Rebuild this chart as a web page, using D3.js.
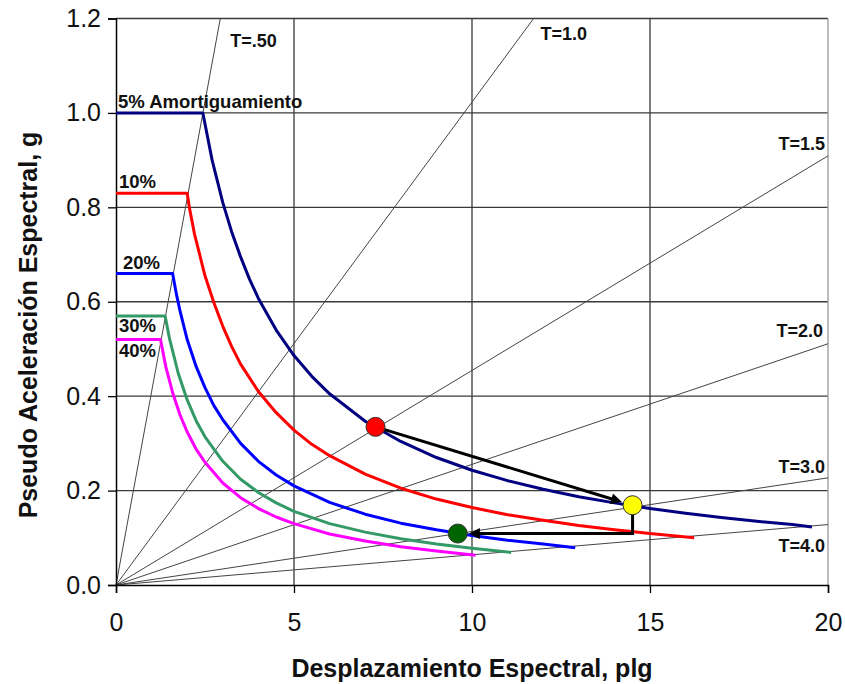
<!DOCTYPE html>
<html>
<head>
<meta charset="utf-8">
<script src="https://cdn.jsdelivr.net/npm/d3@7"></script>
<style>
    body { margin: 0; background: #fff; }
    svg { display: block; font-family: "Liberation Sans", Arial, sans-serif; }
</style>
</head>
<body>
<div id="main"></div>
<script>
const ticksX = [0, 5, 10, 15, 20],
    ticksY = [0, 0.2, 0.4, 0.6, 0.8, 1.0, 1.2];

const amortiguamientos = ['5% Amortiguamiento', '10%', '20%', '30%', '40%'];
const coloresCurva = ['#000080', '#ff0000', '#0000ff', '#339966', '#ff00ff'];

// [Sd plg, Sa g]
const curva5 = [[0, 1.0], [2.44, 1.0], [2.7, 0.90], [3.0, 0.81], [3.25, 0.748], [3.5, 0.695], [3.75, 0.648],
    [4.0, 0.607], [4.5, 0.54], [5.0, 0.486], [5.5, 0.442], [6.0, 0.405], [7.0, 0.347], [8.0, 0.304],
    [9.0, 0.27], [10.0, 0.243], [11.0, 0.221], [12.0, 0.203], [13.0, 0.187], [14.0, 0.174], [15.0, 0.162],
    [16.0, 0.152], [17.0, 0.143], [18.0, 0.135], [19.0, 0.128], [19.55, 0.123]];
const curva10 = [[0, 0.83], [2.0, 0.83], [2.06, 0.80], [2.2, 0.745], [2.5, 0.655], [2.75, 0.598], [3.0, 0.548],
    [3.25, 0.505], [3.5, 0.468], [4.0, 0.41], [4.5, 0.365], [5.0, 0.328], [5.5, 0.298], [6.0, 0.274],
    [7.0, 0.235], [8.0, 0.205], [9.0, 0.182], [10.0, 0.164], [11.0, 0.149], [12.0, 0.137], [13.0, 0.126],
    [14.0, 0.117], [15.0, 0.109], [16.24, 0.10]];
const curva20 = [[0, 0.66], [1.59, 0.66], [1.7, 0.615], [1.8, 0.58], [2.0, 0.52], [2.25, 0.463], [2.5, 0.418],
    [2.75, 0.38], [3.0, 0.35], [3.5, 0.30], [4.0, 0.262], [4.5, 0.233], [5.0, 0.21], [6.0, 0.175],
    [7.0, 0.15], [8.0, 0.131], [9.0, 0.117], [10.0, 0.105], [11.0, 0.095], [12.0, 0.087], [12.9, 0.079]];
const curva30 = [[0, 0.57], [1.38, 0.57], [1.5, 0.523], [1.75, 0.448], [2.0, 0.392], [2.25, 0.348], [2.5, 0.314],
    [3.0, 0.262], [3.5, 0.224], [4.0, 0.196], [4.5, 0.174], [5.0, 0.156], [6.0, 0.13], [7.0, 0.112],
    [8.0, 0.098], [9.0, 0.087], [10.0, 0.078], [11.1, 0.069]];
const curva40 = [[0, 0.52], [1.25, 0.52], [1.4, 0.462], [1.6, 0.405], [1.8, 0.36], [2.0, 0.324], [2.25, 0.288],
    [2.5, 0.26], [3.0, 0.216], [3.5, 0.185], [4.0, 0.162], [4.5, 0.144], [5.0, 0.13], [6.0, 0.108],
    [7.0, 0.093], [8.0, 0.081], [9.0, 0.072], [10.1, 0.063]];

const periodos = ['T=.50', 'T=1.0', 'T=1.5', 'T=2.0', 'T=3.0', 'T=4.0'];
const finPeriodo = [[2.93, 1.2], [11.73, 1.2], [20, 0.909], [20, 0.511], [20, 0.227], [20, 0.128]];

// punto de desempeno: inicial, espectro 5%, final
const puntos = [[7.29, 0.335], [14.51, 0.169], [9.6, 0.109]];
const coloresPunto = ['#ff0000', '#ffff00', '#006400'];

const drawChart = () => {
    const W = 845, H = 684,
        pad = { top: 18.5, left: 116, right: 17, bottom: 99 },
        curvas = [curva5, curva10, curva20, curva30, curva40];

    const x = d3.scaleLinear().domain([0, 20]).range([pad.left, W - pad.right]),
        y = d3.scaleLinear().domain([0, 1.2]).range([H - pad.bottom, pad.top]);

    const svg = d3.select('div#main').append('svg')
        .attr('width', W)
        .attr('height', H);

    svg.append('rect').attr('width', W).attr('height', H).attr('fill', '#fff');

    // rejilla
    svg.append('g').selectAll('line')
        .data(ticksY.slice(1))
        .enter()
        .append('line')
        .attr('x1', x(0)).attr('x2', x(20))
        .attr('y1', d => y(d)).attr('y2', d => y(d))
        .attr('stroke', '#3a3a3a').attr('stroke-width', 1.3);

    svg.append('g').selectAll('line')
        .data(ticksX.slice(1))
        .enter()
        .append('line')
        .attr('x1', d => x(d)).attr('x2', d => x(d))
        .attr('y1', y(0)).attr('y2', y(1.2))
        .attr('stroke', d => d === 20 ? '#999' : '#3a3a3a')
        .attr('stroke-width', 1.3);

    // lineas de periodo
    svg.append('g').selectAll('line')
        .data(finPeriodo)
        .enter()
        .append('line')
        .attr('x1', x(0)).attr('y1', y(0))
        .attr('x2', d => x(d[0])).attr('y2', d => y(d[1]))
        .attr('stroke', '#444').attr('stroke-width', 1);

    const posT = [[10, 28.5, 'start'], [7, 21.5, 'start'], [-3, -6, 'end'], [-5, -7, 'end'], [-3, -5, 'end'], [-3, 27, 'end']];
    svg.append('g').selectAll('text')
        .data(periodos)
        .enter()
        .append('text')
        .attr('x', (d, i) => x(finPeriodo[i][0]) + posT[i][0])
        .attr('y', (d, i) => i < 2 ? y(1.2) + posT[i][1] : y(finPeriodo[i][1]) + posT[i][1])
        .attr('text-anchor', (d, i) => posT[i][2])
        .attr('font-size', 18)
        .attr('font-weight', 'bold')
        .attr('fill', '#111')
        .text(d => d);

    // ejes
    const axX = svg.append('g')
        .attr('transform', 'translate(0,' + y(0) + ')')
        .call(d3.axisBottom(x).tickValues(ticksX).tickFormat(d3.format('d')).tickSizeOuter(0).tickSize(8).tickPadding(20));
    const axY = svg.append('g')
        .attr('transform', 'translate(' + x(0) + ',0)')
        .call(d3.axisLeft(y).tickValues(ticksY).tickFormat(d3.format('.1f')).tickSizeOuter(0).tickSize(8).tickPadding(7));
    [axX, axY].forEach(ax => {
        ax.select('.domain').attr('stroke', '#000').attr('stroke-width', 1.5);
        ax.selectAll('.tick line').attr('stroke', '#000').attr('stroke-width', 1.3);
        ax.selectAll('.tick text')
            .attr('font-family', '"Liberation Sans", Arial, sans-serif')
            .attr('font-size', 25)
            .attr('fill', '#111');
    });

    // espectros de demanda
    const linea = d3.line().x(d => x(d[0])).y(d => y(d[1]));
    svg.append('g').selectAll('path')
        .data(curvas)
        .enter()
        .append('path')
        .attr('d', linea)
        .attr('fill', 'none')
        .attr('stroke', (d, i) => coloresCurva[i])
        .attr('stroke-width', 3)
        .attr('stroke-linejoin', 'round');

    const posA = [[2, -4.5], [3, -5], [7, -4], [3, 16], [3, 17]];
    svg.append('g').selectAll('text')
        .data(amortiguamientos)
        .enter()
        .append('text')
        .attr('x', (d, i) => x(0) + posA[i][0])
        .attr('y', (d, i) => y(curvas[i][0][1]) + posA[i][1])
        .attr('font-size', 18.5)
        .attr('font-weight', 'bold')
        .attr('fill', '#111')
        .text(d => d);

    // flechas
    svg.append('defs').append('marker')
        .attr('id', 'flecha')
        .attr('viewBox', '0 0 10 10')
        .attr('refX', 6).attr('refY', 5)
        .attr('markerWidth', 15).attr('markerHeight', 11)
        .attr('markerUnits', 'userSpaceOnUse')
        .attr('orient', 'auto')
        .append('path')
        .attr('d', 'M0,0 L10,5 L0,10 Z')
        .attr('fill', '#000');

    const p = puntos.map(d => [x(d[0]), y(d[1])]), r = 9.5;
    const dx = p[1][0] - p[0][0], dy = p[1][1] - p[0][1], len = Math.hypot(dx, dy),
        fin = [p[1][0] - dx / len * (r + 6), p[1][1] - dy / len * (r + 6)];

    svg.append('line')
        .attr('x1', p[0][0]).attr('y1', p[0][1])
        .attr('x2', fin[0]).attr('y2', fin[1])
        .attr('stroke', '#000').attr('stroke-width', 3)
        .attr('marker-end', 'url(#flecha)');

    svg.append('path')
        .attr('d', 'M' + p[1][0] + ',' + p[1][1] + 'L' + p[1][0] + ',' + p[2][1] + 'L' + (p[2][0] + r + 6) + ',' + p[2][1])
        .attr('fill', 'none')
        .attr('stroke', '#000').attr('stroke-width', 3)
        .attr('marker-end', 'url(#flecha)');

    svg.append('g').selectAll('circle')
        .data(puntos)
        .enter()
        .append('circle')
        .attr('cx', d => x(d[0]))
        .attr('cy', d => y(d[1]))
        .attr('r', r)
        .attr('fill', (d, i) => coloresPunto[i])
        .attr('stroke', '#333')
        .attr('stroke-width', 1);

    // titulos
    svg.append('text')
        .attr('x', (x(0) + x(20)) / 2)
        .attr('y', 677)
        .attr('text-anchor', 'middle')
        .attr('font-size', 25)
        .attr('font-weight', 'bold')
        .attr('fill', '#111')
        .text('Desplazamiento Espectral, plg');

    svg.append('text')
        .attr('transform', 'translate(37,325) rotate(-90)')
        .attr('text-anchor', 'middle')
        .attr('font-size', 25)
        .attr('font-weight', 'bold')
        .attr('fill', '#111')
        .text('Pseudo Aceleración Espectral, g');
};

drawChart();
</script>
</body>
</html>
